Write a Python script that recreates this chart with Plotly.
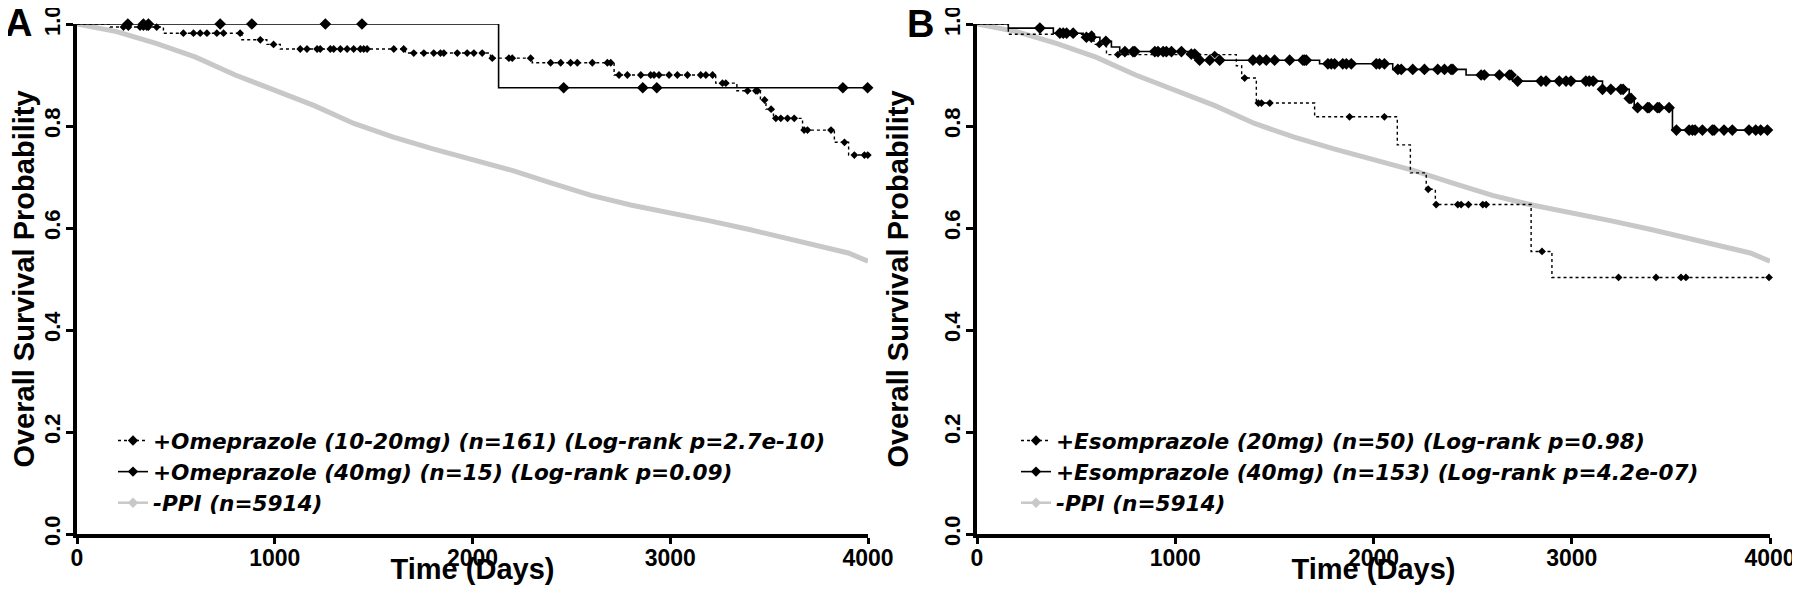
import numpy as np
import plotly.graph_objects as go

# ---------------- data ----------------
# -PPI reference curve (same cohort in both panels)
ppi_t = [0, 200, 400, 600, 800, 1000, 1200, 1400, 1600, 1800, 2000, 2200, 2400,
         2600, 2800, 3000, 3200, 3400, 3600, 3800, 3900, 4000]
ppi_s = [1.0, 0.985, 0.962, 0.935, 0.900, 0.870, 0.840, 0.805, 0.778, 0.755, 0.735,
         0.713, 0.688, 0.664, 0.645, 0.630, 0.614, 0.597, 0.579, 0.562, 0.551, 0.535]

# Panel A: Omeprazole 10-20 mg (dotted)
a1_t = [0, 167, 437, 834, 960, 1028, 1661, 2091, 2302, 2716, 3230, 3337, 3456,
        3484, 3522, 3669, 3830, 3902]
a1_s = [1.0, 0.994, 0.982, 0.969, 0.960, 0.951, 0.943, 0.933, 0.924, 0.900, 0.884,
        0.869, 0.851, 0.833, 0.815, 0.792, 0.768, 0.743]
a1_cens = [235, 260, 319, 336, 353, 361, 403, 538, 589, 623, 657, 707, 741, 825, 927,
           994, 1129, 1163, 1214, 1230, 1281, 1298, 1332, 1366, 1399, 1433, 1450, 1467,
           1602, 1652, 1703, 1754, 1804, 1838, 1855, 1923, 1973, 2007, 2049, 2100, 2184,
           2201, 2294, 2395, 2446, 2496, 2530, 2606, 2682, 2699, 2741, 2783, 2851, 2901,
           2918, 2943, 2994, 3036, 3087, 3154, 3180, 3214, 3264, 3281, 3391, 3433, 3441,
           3477, 3510, 3534, 3559, 3593, 3627, 3677, 3694, 3813, 3881, 3931, 3982, 3999]

# Panel A: Omeprazole 40 mg (solid)
a2_t = [0, 2132]
a2_s = [1.0, 0.875]
a2_cens = [257, 336, 361, 724, 884, 1256, 1441, 2461, 2861, 2932, 3873, 3998]

# Panel B: Esomprazole 20 mg (dotted)
b1_t = [0, 158, 590, 653, 1308, 1335, 1409, 1703, 2120, 2186, 2266, 2312, 2795, 2900]
b1_s = [1.0, 0.980, 0.960, 0.940, 0.918, 0.894, 0.845, 0.818, 0.763, 0.708, 0.676,
        0.646, 0.554, 0.503]
b1_cens = [578, 617, 711, 1199, 1350, 1419, 1435, 1477, 1879, 2055, 2276, 2316, 2425,
           2442, 2479, 2551, 2568, 2850, 3236, 3425, 3551, 3576, 3995]

# Panel B: Esomprazole 40 mg (solid)
b2_t = [0, 158, 385, 536, 620, 678, 720, 1073, 1123, 1728, 2097, 2467, 2702, 3155,
        3290, 3315, 3508]
b2_s = [1.0, 0.992, 0.982, 0.974, 0.966, 0.955, 0.946, 0.941, 0.929, 0.922, 0.911,
        0.900, 0.888, 0.872, 0.854, 0.836, 0.792]
b2_cens = [317, 418, 435, 452, 485, 552, 577, 650, 746, 787, 796, 897, 913, 939, 955,
           981, 1031, 1081, 1098, 1123, 1174, 1224, 1392, 1426, 1459, 1501, 1577, 1644,
           1652, 1661, 1770, 1787, 1804, 1845, 1863, 1888, 2014, 2030, 2055, 2123, 2140,
           2198, 2257, 2324, 2358, 2391, 2400, 2543, 2559, 2635, 2685, 2694, 2727, 2845,
           2870, 2937, 2971, 2996, 3071, 3088, 3108, 3155, 3197, 3248, 3259, 3290, 3299,
           3332, 3382, 3390, 3432, 3441, 3491, 3528, 3592, 3609, 3622, 3659, 3709, 3718,
           3768, 3810, 3894, 3928, 3953, 3987]

names_a = ["+Omeprazole (10-20mg) (n=161) (Log-rank p=2.7e-10)",
           "+Omeprazole (40mg) (n=15) (Log-rank p=0.09)",
           "-PPI (n=5914)"]
names_b = ["+Esomprazole (20mg) (n=50) (Log-rank p=0.98)",
           "+Esomprazole (40mg) (n=153) (Log-rank p=4.2e-07)",
           "-PPI (n=5914)"]

x_ticks = [0, 1000, 2000, 3000, 4000]
y_ticks = [0.0, 0.2, 0.4, 0.6, 0.8, 1.0]
t_max = 4000

# ---------------- styling ----------------
FONT = "Liberation Sans, Arial, sans-serif"
LEG_FONT = "DejaVu Sans, Liberation Sans, sans-serif"
GRAY = "#c8c8c8"
BLACK = "#000000"

# figure size leaves room for the page's default 8px body margin
W, H = 1792, 577
OFF = 8


def fx(px):
    return (px - OFF) / W


def fy(py):
    return (H - (py - OFF)) / H


def step_level(times, surv, t):
    idx = np.searchsorted(np.asarray(times), np.asarray(t), side="right") - 1
    return np.asarray(surv)[idx]


fig = go.Figure()


def add_panel(xa, ya, legend_id, t1, s1, c1, t2, s2, c2, names):
    fig.add_trace(go.Scatter(x=ppi_t, y=ppi_s, mode="lines",
                             line=dict(color=GRAY, width=5),
                             xaxis=xa, yaxis=ya, showlegend=False, hoverinfo="skip"))
    fig.add_trace(go.Scatter(x=t1 + [t_max], y=s1 + [s1[-1]], mode="lines",
                             line=dict(color=BLACK, width=1.4, dash="dot", shape="hv"),
                             xaxis=xa, yaxis=ya, showlegend=False))
    fig.add_trace(go.Scatter(x=c1, y=step_level(t1, s1, c1), mode="markers",
                             marker=dict(symbol="diamond", size=6, color=BLACK),
                             cliponaxis=False, xaxis=xa, yaxis=ya, showlegend=False))
    fig.add_trace(go.Scatter(x=t2 + [t_max], y=s2 + [s2[-1]], mode="lines",
                             line=dict(color=BLACK, width=1.6, shape="hv"),
                             xaxis=xa, yaxis=ya, showlegend=False))
    fig.add_trace(go.Scatter(x=c2, y=step_level(t2, s2, c2), mode="markers",
                             marker=dict(symbol="diamond", size=9, color=BLACK),
                             cliponaxis=False, xaxis=xa, yaxis=ya, showlegend=False))
    styles = [(BLACK, "dot"), (BLACK, "solid"), (GRAY, "solid")]
    for rank, (nm, (col, dash)) in enumerate(zip(names, styles)):
        fig.add_trace(go.Scatter(x=[None], y=[None], mode="lines+markers", name=nm,
                                 line=dict(color=col, width=1.6 if col == BLACK else 2.5,
                                           dash=dash),
                                 marker=dict(symbol="diamond", size=8, color=col),
                                 xaxis=xa, yaxis=ya, legend=legend_id,
                                 legendrank=rank + 1, showlegend=True))


add_panel("x", "y", "legend", a1_t, a1_s, a1_cens, a2_t, a2_s, a2_cens, names_a)
add_panel("x2", "y2", "legend2", b1_t, b1_s, b1_cens, b2_t, b2_s, b2_cens, names_b)

xdomA = [fx(77), fx(868)]
xdomB = [fx(977), fx(1770)]
ydom = [fy(534), fy(24)]

xtick_font = dict(family=FONT, size=23, color=BLACK, weight="bold")
ytick_font = dict(family=FONT, size=22, color=BLACK, weight="bold")
title_font = dict(family=FONT, size=29, color=BLACK, weight="bold")

xaxis_common = dict(range=[0, t_max], tickvals=x_ticks, ticktext=[str(v) for v in x_ticks],
                    showgrid=False, zeroline=False, showline=True, linecolor=BLACK,
                    linewidth=4, ticks="", tickfont=xtick_font, automargin=False,
                    ticklabeloverflow="allow",
                    minor=dict(tickvals=x_ticks, ticks="outside", ticklen=6,
                               tickwidth=3, tickcolor=BLACK, showgrid=False),
                    title=dict(text="Time (Days)", font=title_font, standoff=14))
yaxis_common = dict(range=[0, 1.0], tickvals=y_ticks,
                    ticktext=[f"{v:.1f}" for v in y_ticks], tickangle=-90,
                    showgrid=False, zeroline=False, showline=True, linecolor=BLACK,
                    linewidth=4, ticks="outside", ticklen=4, tickwidth=3,
                    tickcolor=BLACK, tickfont=ytick_font, automargin=False,
                    ticklabeloverflow="allow",
                    minor=dict(tickvals=y_ticks, ticks="outside", ticklen=7,
                               tickwidth=3, tickcolor=BLACK, showgrid=False),
                    title=dict(text="Overall Survival Probability", font=title_font,
                               standoff=24))

legend_font = dict(family=LEG_FONT, size=21.6, color=BLACK, weight="bold", style="italic")

fig.update_layout(
    template="none",
    width=W, height=H,
    margin=dict(l=0, r=0, t=0, b=0, pad=0),
    paper_bgcolor="white", plot_bgcolor="white",
    showlegend=True,
    xaxis=dict(domain=xdomA, anchor="y", **xaxis_common),
    yaxis=dict(domain=ydom, anchor="x", **yaxis_common),
    xaxis2=dict(domain=xdomB, anchor="y2", **xaxis_common),
    yaxis2=dict(domain=ydom, anchor="x2", **yaxis_common),
    legend=dict(x=fx(113), y=fy(420), xanchor="left", yanchor="top",
                bgcolor="rgba(0,0,0,0)", font=legend_font, traceorder="normal",
                tracegroupgap=0, borderwidth=0),
    legend2=dict(x=fx(1016), y=fy(420), xanchor="left", yanchor="top",
                 bgcolor="rgba(0,0,0,0)", font=legend_font, traceorder="normal",
                 tracegroupgap=0, borderwidth=0),
    annotations=[
        dict(text="A", x=fx(18), y=fy(23), xref="paper", yref="paper",
             xanchor="center", yanchor="middle", showarrow=False,
             font=dict(family=FONT, size=38, color=BLACK, weight="bold")),
        dict(text="B", x=fx(921), y=fy(24), xref="paper", yref="paper",
             xanchor="center", yanchor="middle", showarrow=False,
             font=dict(family=FONT, size=38, color=BLACK, weight="bold")),
    ],
)

fig.write_html("out.html")
